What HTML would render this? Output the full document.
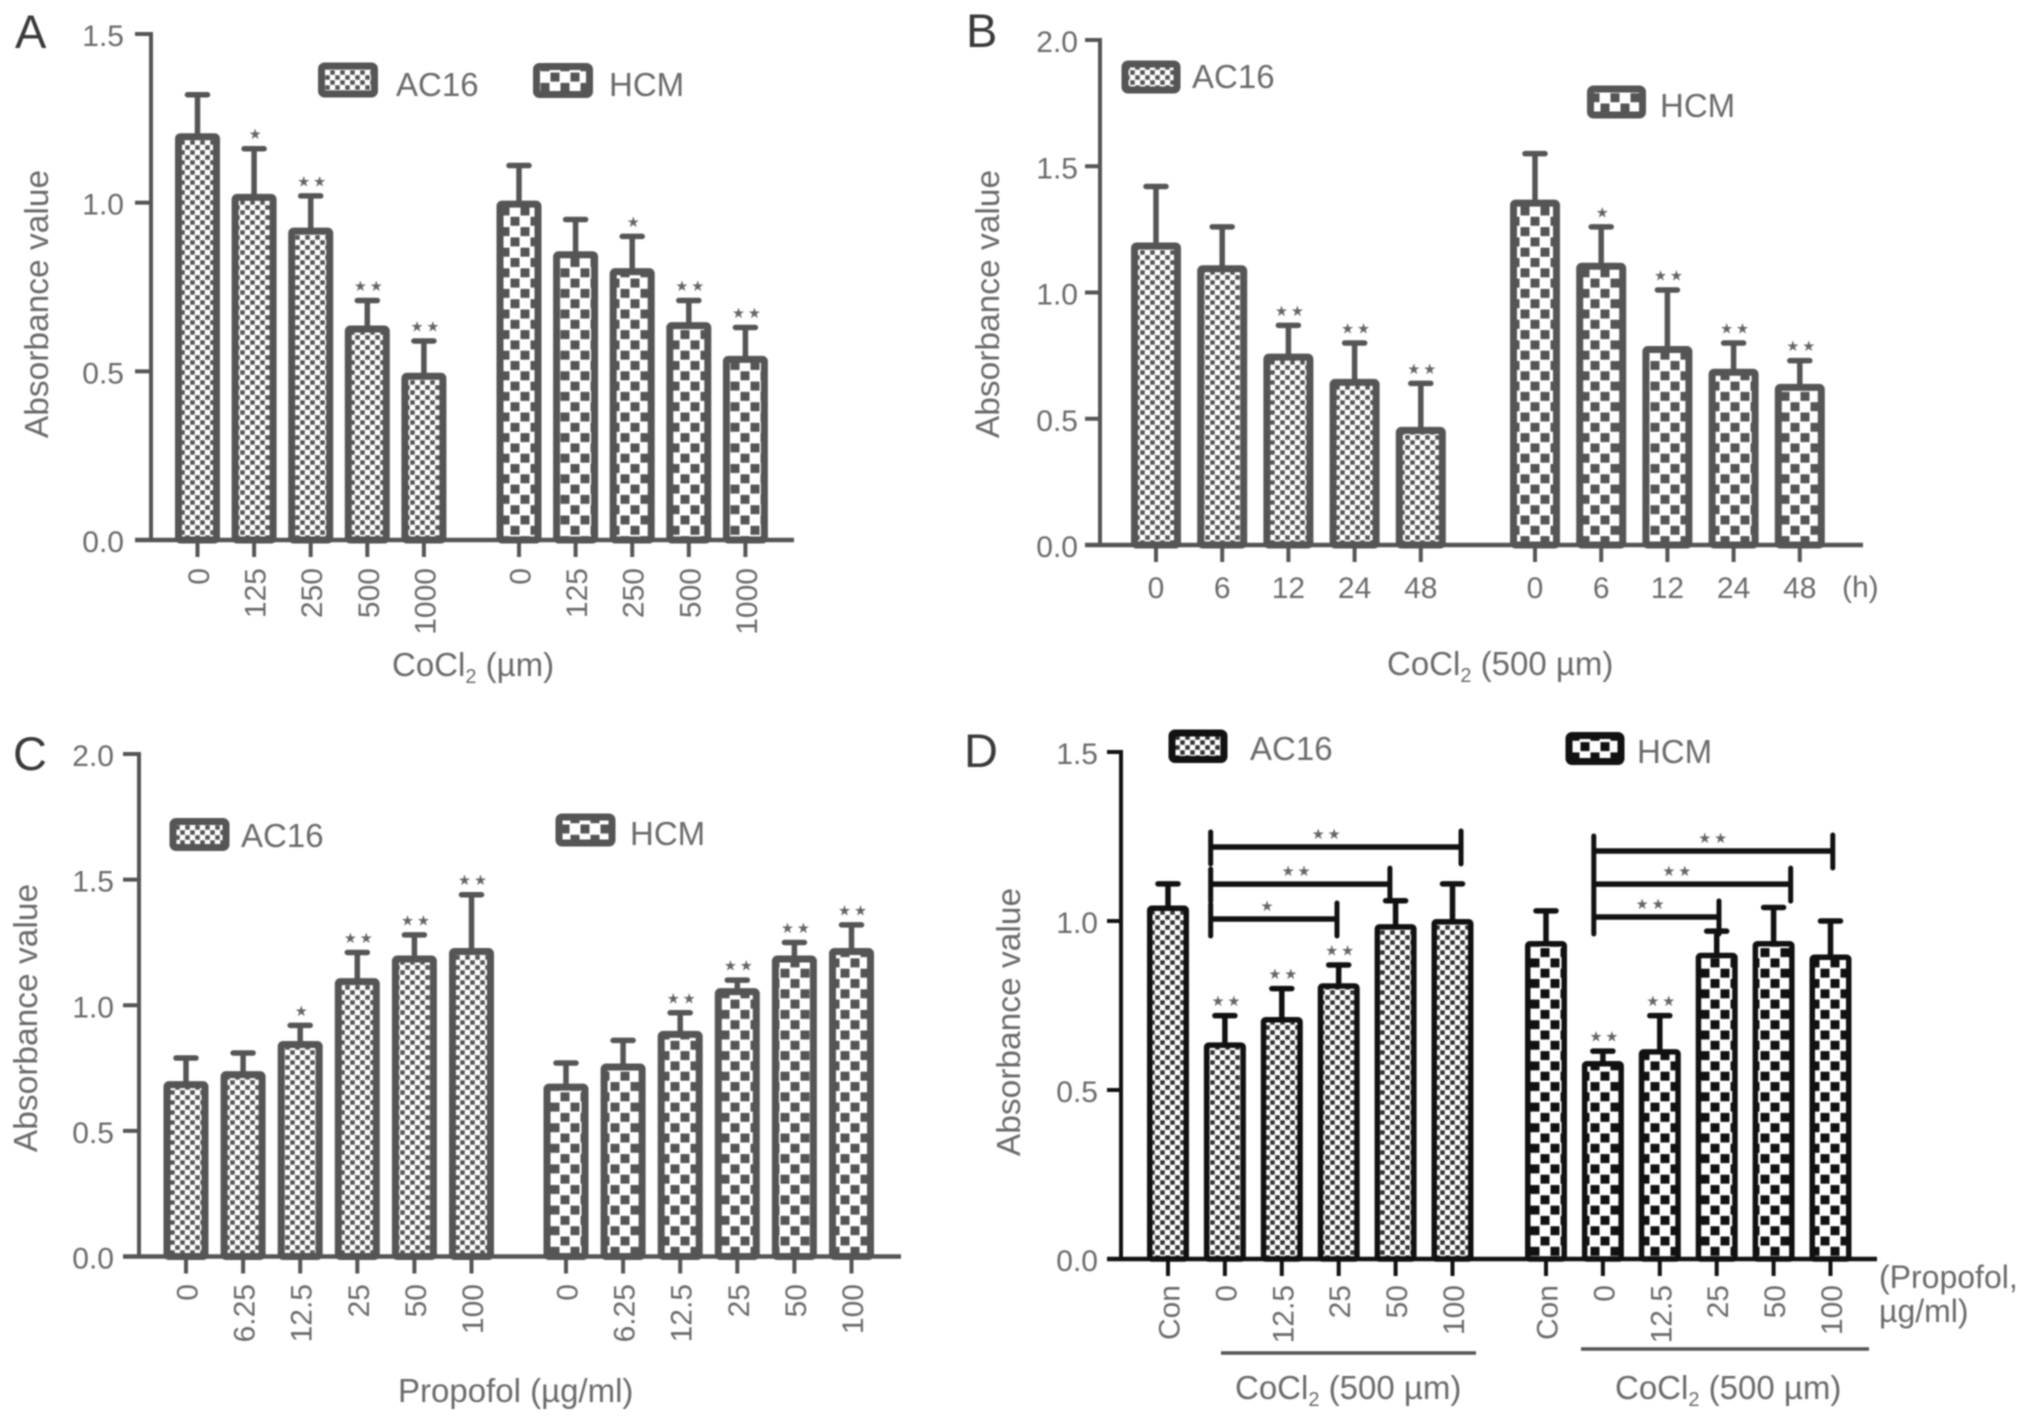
<!DOCTYPE html>
<html lang="en">
<head>
<meta charset="utf-8">
<title>Absorbance bar charts</title>
<style>
html,body{margin:0;padding:0;background:#fff;width:2032px;height:1421px;overflow:hidden}
svg{display:block;filter:blur(0.7px)}
text{font-family:"Liberation Sans",sans-serif;fill:#6b6b6b}
.letter{font-size:47px;fill:#3a3a3a}
.axis-title{font-size:33.5px;text-anchor:middle}
.x-title{font-size:33px}
.legend{font-size:33px}
.tick{font-size:30px}
.unit{font-size:32px}
.star{font-family:"DejaVu Sans",sans-serif;font-size:14.5px;text-anchor:middle;fill:#666}
</style>
</head>
<body>
<svg id="figure" xmlns="http://www.w3.org/2000/svg" width="2032" height="1421" viewBox="0 0 2032 1421">
  <defs>
    <pattern id="dots-gray" width="10" height="10" patternUnits="userSpaceOnUse"><rect width="10" height="10" fill="#fff"/><rect x="0.25" y="0.25" width="4.5" height="4.5" fill="#555"/><rect x="5.25" y="5.25" width="4.5" height="4.5" fill="#555"/></pattern>
    <pattern id="check-gray" width="20" height="20.6" patternUnits="userSpaceOnUse"><rect width="20" height="20.6" fill="#fff"/><rect x="0.5" y="0.5" width="9" height="9" fill="#555"/><rect x="10.5" y="10.8" width="9" height="9" fill="#555"/></pattern>
    <pattern id="dots-black" width="10" height="10" patternUnits="userSpaceOnUse"><rect width="10" height="10" fill="#fff"/><rect x="0.25" y="0.25" width="4.5" height="4.5" fill="#333"/><rect x="5.25" y="5.25" width="4.5" height="4.5" fill="#333"/></pattern>
    <pattern id="check-black" width="20" height="20.6" patternUnits="userSpaceOnUse"><rect width="20" height="20.6" fill="#fff"/><rect x="0.5" y="0.5" width="9" height="9" fill="#111"/><rect x="10.5" y="10.8" width="9" height="9" fill="#111"/></pattern>
  </defs>

  <g id="panel-a">
    <text class="letter" x="15" y="48">A</text>
    <text class="axis-title" transform="translate(48,304) rotate(-90)">Absorbance value</text>
    <text class="x-title" x="392" y="676">CoCl<tspan font-size="20" dy="7">2</tspan><tspan dy="-7"> (µm)</tspan></text>
    <rect x="321.5" y="66" width="53" height="28" rx="3" fill="url(#dots-gray)" stroke="#555" stroke-width="7"/>
    <text class="legend" x="396" y="96">AC16</text>
    <rect x="536.5" y="66.5" width="53" height="28" rx="3" fill="url(#check-gray)" stroke="#555" stroke-width="7"/>
    <text class="legend" x="609" y="96">HCM</text>
  </g>

  <g id="panel-b">
    <text class="letter" x="966" y="47">B</text>
    <text class="axis-title" transform="translate(999,304) rotate(-90)">Absorbance value</text>
    <text class="x-title" x="1387" y="675">CoCl<tspan font-size="20" dy="7">2</tspan><tspan dy="-7"> (500 µm)</tspan></text>
    <rect x="1125" y="64" width="52" height="26" rx="3" fill="url(#dots-gray)" stroke="#555" stroke-width="7"/>
    <text class="legend" x="1192" y="88">AC16</text>
    <rect x="1590.5" y="89" width="52" height="26" rx="3" fill="url(#check-gray)" stroke="#555" stroke-width="7"/>
    <text class="legend" x="1660" y="117">HCM</text>
    <text class="tick" x="1842" y="597">(h)</text>
  </g>

  <g id="panel-c">
    <text class="letter" x="13" y="770">C</text>
    <text class="axis-title" transform="translate(37,1018) rotate(-90)">Absorbance value</text>
    <text class="x-title" x="398" y="1402">Propofol (µg/ml)</text>
    <rect x="173" y="821.5" width="53" height="26" rx="3" fill="url(#dots-gray)" stroke="#555" stroke-width="7"/>
    <text class="legend" x="241" y="847">AC16</text>
    <rect x="559" y="817" width="53" height="26" rx="3" fill="url(#check-gray)" stroke="#555" stroke-width="7"/>
    <text class="legend" x="630" y="845">HCM</text>
  </g>

  <g id="panel-d">
    <text class="letter" x="964" y="767">D</text>
    <text class="axis-title" transform="translate(1020,1022) rotate(-90)">Absorbance value</text>
    <text class="x-title" x="1235" y="1399">CoCl<tspan font-size="20" dy="7">2</tspan><tspan dy="-7"> (500 µm)</tspan></text>
    <text class="x-title" x="1615" y="1399">CoCl<tspan font-size="20" dy="7">2</tspan><tspan dy="-7"> (500 µm)</tspan></text>
    <line x1="1221" x2="1476" y1="1353" y2="1353" stroke="#555" stroke-width="3.5"/>
    <line x1="1581" x2="1869" y1="1349" y2="1349" stroke="#555" stroke-width="3.5"/>
    <text class="unit" x="1879" y="1288">(Propofol,</text>
    <text class="unit" x="1879" y="1322">µg/ml)</text>
    <rect x="1172" y="733" width="52" height="26.5" rx="3" fill="url(#dots-black)" stroke="#111" stroke-width="7"/>
    <text class="legend" x="1250" y="760">AC16</text>
    <rect x="1569" y="735.5" width="52" height="26" rx="3" fill="url(#check-black)" stroke="#111" stroke-width="7"/>
    <text class="legend" x="1637" y="763">HCM</text>
  </g>
</svg>

<script>
// ---- Panel A data ----
const aCategories = ["0", "125", "250", "500", "1000"];
const aAc16Means = [1.20, 1.02, 0.92, 0.63, 0.49];
const aAc16Errors = [0.12, 0.14, 0.10, 0.08, 0.10];
const aAc16Stars = ["", "*", "**", "**", "**"];
const aHcmMeans = [1.00, 0.85, 0.80, 0.64, 0.54];
const aHcmErrors = [0.11, 0.10, 0.10, 0.07, 0.09];
const aHcmStars = ["", "", "*", "**", "**"];
const aTicks = ["0.0", "0.5", "1.0", "1.5"];

// ---- Panel B data ----
const bCategories = ["0", "6", "12", "24", "48"];
const bAc16Means = [1.19, 1.10, 0.75, 0.65, 0.46];
const bAc16Errors = [0.23, 0.16, 0.12, 0.15, 0.18];
const bAc16Stars = ["", "", "**", "**", "**"];
const bHcmMeans = [1.36, 1.11, 0.78, 0.69, 0.63];
const bHcmErrors = [0.19, 0.15, 0.23, 0.11, 0.10];
const bHcmStars = ["", "*", "**", "**", "**"];
const bTicks = ["0.0", "0.5", "1.0", "1.5", "2.0"];

// ---- Panel C data ----
const cCategories = ["0", "6.25", "12.5", "25", "50", "100"];
const cAc16Means = [0.69, 0.73, 0.85, 1.10, 1.19, 1.22];
const cAc16Errors = [0.10, 0.08, 0.07, 0.11, 0.09, 0.22];
const cAc16Stars = ["", "", "*", "**", "**", "**"];
const cHcmMeans = [0.68, 0.76, 0.89, 1.06, 1.19, 1.22];
const cHcmErrors = [0.09, 0.10, 0.08, 0.04, 0.06, 0.10];
const cHcmStars = ["", "", "**", "**", "**", "**"];
const cTicks = ["0.0", "0.5", "1.0", "1.5", "2.0"];

// ---- Panel D data ----
const dCategories = ["Con", "0", "12.5", "25", "50", "100"];
const dAc16Means = [1.04, 0.635, 0.71, 0.81, 0.985, 1.00];
const dAc16Errors = [0.07, 0.085, 0.09, 0.06, 0.075, 0.11];
const dAc16Stars = ["", "**", "**", "**", "", ""];
const dHcmMeans = [0.935, 0.58, 0.615, 0.90, 0.935, 0.895];
const dHcmErrors = [0.095, 0.035, 0.105, 0.07, 0.105, 0.105];
const dHcmStars = ["", "**", "**", "", "", ""];
const dTicks = ["0.0", "0.5", "1.0", "1.5"];
const dAc16BracketLevels = [1.006, 1.109, 1.219];
const dAc16BracketStart = [0.75];
const dAc16BracketEnds = [2.97, 3.90, 5.15];
const dAc16BracketLabelAt = [1.74, 2.25, 2.78];
const dAc16BracketLabels = ["*", "**", "**"];
const dHcmBracketLevels = [1.012, 1.109, 1.207];
const dHcmBracketStart = [0.84];
const dHcmBracketEnds = [3.04, 4.30, 5.04];
const dHcmBracketLabelAt = [1.83, 2.30, 2.93];
const dHcmBracketLabels = ["**", "**", "**"];

const NS = "http://www.w3.org/2000/svg";
function make(parent, tag, attrs, txt) {
  const el = document.createElementNS(NS, tag);
  for (const k in attrs) el.setAttribute(k, attrs[k]);
  if (txt !== undefined) el.textContent = txt;
  parent.appendChild(el);
  return el;
}
function starGlyphs(s) { return s === "**" ? "★\u2009★" : s === "*" ? "★" : ""; }

function drawSeries(g, cfg, series, key, xScale, yScale) {
  series.means.forEach((v, i) => {
    const cx = xScale(i);
    const errTop = yScale(v + series.errors[i]);
    const barTop = yScale(v) - 2;

    const stem = make(g, "line", { x1: cx, x2: cx, y1: errTop, y2: barTop + 2, stroke: cfg.color, "stroke-width": 5.5 });
    
    

    const cap = make(g, "line", { x1: cx - 10, x2: cx + 10, y1: errTop, y2: errTop, stroke: cfg.color, "stroke-width": 5.5, "stroke-linecap": "round" });
    
    

    const s = cfg.barStroke;
    const bar = make(g, "rect", {
      x: cx - cfg.barWidth / 2 + s / 2, y: barTop + s / 2,
      width: cfg.barWidth - s, height: Math.max(0, yScale(0) - barTop - s / 2),
      rx: 2, fill: "url(#" + series.pattern + ")", stroke: cfg.color, "stroke-width": s
    });
    
    

    if (series.stars[i]) {
      const star = make(g, "text", { class: "star", x: cx + 1, y: errTop - 9.5 }, starGlyphs(series.stars[i]));
      
      
    }

    const tick = make(g, "line", { x1: cx, x2: cx, y1: yScale(0), y2: yScale(0) + 17, stroke: cfg.color, "stroke-width": 4 });
    
    

    const label = series.categories[i];
    let t;
    if (cfg.rotated) {
      t = make(g, "text", { class: "tick", "text-anchor": "end", transform: "translate(" + (cx + 11.5) + "," + cfg.labelEdge + ") rotate(-90)" }, label);
    } else {
      t = make(g, "text", { class: "tick", "text-anchor": "middle", x: cx, y: cfg.labelEdge }, label);
    }
    
    
  });
}

function drawPanel(cfg) {
  const g = document.getElementById(cfg.id);
  const yScale = v => cfg.y0 - (v / cfg.yMax) * (cfg.y0 - cfg.yTop);
  const x1 = i => cfg.group1Start + i * cfg.step;
  const x2 = i => cfg.group2Start + i * cfg.step;

  drawSeries(g, cfg, cfg.first, "ac16", x1, yScale);
  drawSeries(g, cfg, cfg.second, "hcm", x2, yScale);

  const yAxis = make(g, "line", { x1: cfg.axisX, x2: cfg.axisX, y1: cfg.yTop - 2, y2: cfg.y0 + 2, stroke: cfg.color, "stroke-width": 4 });
  
  

  const xAxis = make(g, "line", { x1: cfg.baseStart, x2: cfg.baseEnd, y1: cfg.y0, y2: cfg.y0, stroke: cfg.color, "stroke-width": 4.5 });
  
  

  cfg.ticks.forEach(lbl => {
    const y = yScale(parseFloat(lbl));
    const tick = make(g, "line", { x1: cfg.baseStart, x2: cfg.axisX, y1: y, y2: y, stroke: cfg.color, "stroke-width": 4 });
    
    
    const t = make(g, "text", { class: "tick", "text-anchor": "end", x: cfg.tickEnd, y: y + 12 }, lbl);
    
    
  });

  (cfg.brackets || []).forEach(br => {
    const startX = br.xScale(br.start[0]);
    br.levels.forEach((lvl, i) => {
      const y = yScale(lvl);
      const endX = br.xScale(br.ends[i]);
      const h = make(g, "line", { x1: startX, x2: endX, y1: y, y2: y, stroke: "#111", "stroke-width": 5.5 });
      
      
      const vl = make(g, "line", { x1: startX, x2: startX, y1: y - 15, y2: y + 17, stroke: "#111", "stroke-width": 5, "stroke-linecap": "round" });
      
      
      const vr = make(g, "line", { x1: endX, x2: endX, y1: y - 16, y2: y + 17, stroke: "#111", "stroke-width": 5, "stroke-linecap": "round" });
      
      
      const star = make(g, "text", { class: "star", x: br.xScale(br.labelAt[i]), y: y - 8 }, starGlyphs(br.labels[i]));
      
      
    });
  });
}

drawPanel({
  id: "panel-a", color: "#555", barWidth: 45, barStroke: 7, rotated: true, labelEdge: 568,
  y0: 540, yTop: 34, yMax: 1.5, axisX: 151, baseStart: 135, baseEnd: 794, tickEnd: 124,
  group1Start: 197.5, group2Start: 519, step: 56.6, ticks: aTicks,
  first: { categories: aCategories, means: aAc16Means, errors: aAc16Errors, stars: aAc16Stars, pattern: "dots-gray" },
  second: { categories: aCategories, means: aHcmMeans, errors: aHcmErrors, stars: aHcmStars, pattern: "check-gray" }
});
drawPanel({
  id: "panel-b", color: "#555", barWidth: 50, barStroke: 7, rotated: false, labelEdge: 598,
  y0: 545, yTop: 40, yMax: 2.0, axisX: 1100, baseStart: 1085, baseEnd: 1863, tickEnd: 1078,
  group1Start: 1156, group2Start: 1535, step: 66.2, ticks: bTicks,
  first: { categories: bCategories, means: bAc16Means, errors: bAc16Errors, stars: bAc16Stars, pattern: "dots-gray" },
  second: { categories: bCategories, means: bHcmMeans, errors: bHcmErrors, stars: bHcmStars, pattern: "check-gray" }
});
drawPanel({
  id: "panel-c", color: "#555", barWidth: 45, barStroke: 7, rotated: true, labelEdge: 1284,
  y0: 1256.5, yTop: 754, yMax: 2.0, axisX: 139, baseStart: 123, baseEnd: 901, tickEnd: 114,
  group1Start: 186, group2Start: 566, step: 57.1, ticks: cTicks,
  first: { categories: cCategories, means: cAc16Means, errors: cAc16Errors, stars: cAc16Stars, pattern: "dots-gray" },
  second: { categories: cCategories, means: cHcmMeans, errors: cHcmErrors, stars: cHcmStars, pattern: "check-gray" }
});
drawPanel({
  id: "panel-d", color: "#111", barWidth: 42, barStroke: 5.5, rotated: true, labelEdge: 1285,
  y0: 1259, yTop: 752, yMax: 1.5, axisX: 1121, baseStart: 1107, baseEnd: 1877, tickEnd: 1098,
  group1Start: 1168, group2Start: 1546, step: 56.9, ticks: dTicks,
  first: { categories: dCategories, means: dAc16Means, errors: dAc16Errors, stars: dAc16Stars, pattern: "dots-black" },
  second: { categories: dCategories, means: dHcmMeans, errors: dHcmErrors, stars: dHcmStars, pattern: "check-black" },
  brackets: [
    { xScale: i => 1168 + i * 56.9, start: dAc16BracketStart, levels: dAc16BracketLevels, ends: dAc16BracketEnds, labelAt: dAc16BracketLabelAt, labels: dAc16BracketLabels },
    { xScale: i => 1546 + i * 56.9, start: dHcmBracketStart, levels: dHcmBracketLevels, ends: dHcmBracketEnds, labelAt: dHcmBracketLabelAt, labels: dHcmBracketLabels }
  ]
});
</script>
</body>
</html>
